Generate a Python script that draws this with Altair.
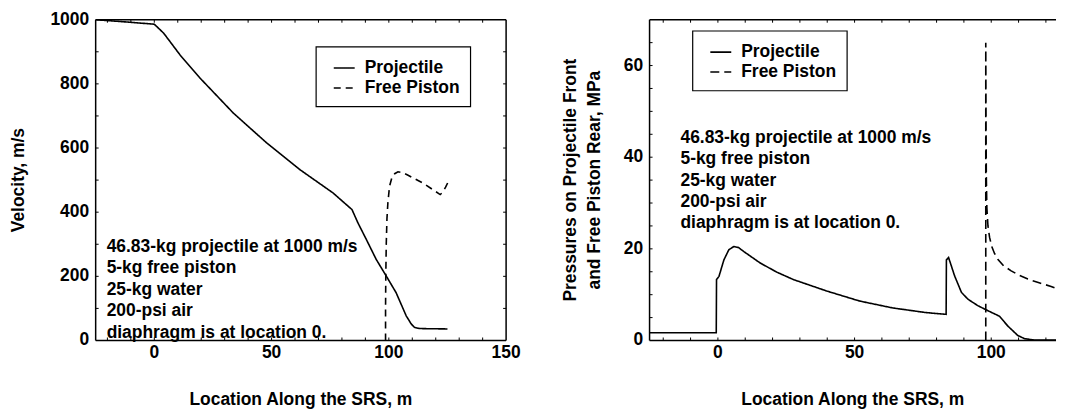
import altair as alt
import pandas as pd

FONT = "Liberation Sans"
FS = 17.5

# ---------------- data ----------------
# Left panel: velocity (m/s) vs location (m)
vel_proj_x = [-25, -12, 0, 4.0, 11.0, 19.5, 33.7, 47.9, 62.0, 76.2, 84.3, 86.8, 90.4, 94.6, 98.9, 103.1, 107.4, 109.5, 110.9, 112.5, 114.5, 125.0]
vel_proj_y = [1000, 993, 986, 958, 890, 818, 709, 616, 533, 460, 408, 367, 315, 253, 201, 149, 77, 52, 41, 38, 37, 36]

vel_pist_x = [98.6, 98.6, 98.7, 98.9, 99.2, 99.6, 100.3, 101.2, 102.5, 103.9, 106.0, 108.0, 110.3, 114.5, 118.8, 121.9, 123.0, 124.2, 125.2]
vel_pist_y = [0, 100, 200, 300, 380, 430, 481, 505, 520, 526, 523, 516, 507, 491, 470, 455, 462, 478, 493]

# Right panel: pressure (MPa) vs location (m)
prs_proj_x = [-25, -0.6, -0.5, 0.4, 2.2, 4.0, 5.8, 7.5, 9.5, 15.5, 21.6, 27.6, 39.8, 51.9, 64.0, 76.0, 83.5, 83.6, 84.4, 86.6, 89.1, 91.5, 95.1, 98.8, 103.0, 106.0, 109.7, 112.2, 115.8, 123.7]
prs_proj_y = [1.7, 1.7, 13.3, 14.0, 17.6, 19.8, 20.5, 20.3, 19.4, 16.9, 14.9, 13.3, 10.8, 8.6, 7.1, 6.1, 5.7, 17.6, 18.1, 14.1, 10.5, 9.0, 7.6, 6.5, 5.3, 3.2, 1.1, 0.4, 0.1, 0.1]

prs_pist_x = [98.0, 98.0, 98.05, 98.1, 98.2, 98.4, 98.8, 99.4, 100.2, 101.2, 102.4, 104.5, 107.3, 110.0, 113.4, 117.5, 121.9, 123.7]
prs_pist_y = [0, 65, 56, 48, 36, 29, 25, 22.5, 20.5, 19.0, 17.7, 16.3, 15.2, 14.3, 13.4, 12.6, 11.8, 11.4]

series_names = ["Projectile", "Free Piston"]

note_lines = [
    "46.83-kg projectile at 1000 m/s",
    "5-kg free piston",
    "25-kg water",
    "200-psi air",
    "diaphragm is at location 0.",
]

x_title = "Location Along the SRS, m"
left_ytitle = ["Velocity, m/s"]
right_ytitle = ["Pressures on Projectile Front", "and Free Piston Rear, MPa"]

left_xlabels = [0, 50, 100, 150]
left_ylabels = [0, 200, 400, 600, 800, 1000]
right_xlabels = [0, 50, 100]
right_ylabels = [0, 20, 40, 60]
left_xticks = [-20, -10, 0, 10, 20, 30, 40, 50, 60, 70, 80, 90, 100, 110, 120, 130, 140]
left_yticks = [100, 200, 300, 400, 500, 600, 700, 800, 900]
right_xticks = [-20, -10, 0, 10, 20, 30, 40, 50, 60, 70, 80, 90, 100, 110, 120]
right_yticks = [5, 10, 15, 20, 25, 30, 35, 40, 45, 50, 55, 60, 65]


def series_df(xs, ys, name):
    return pd.DataFrame({"x": xs, "y": ys, "series": name, "i": list(range(len(xs)))})


left_df = pd.concat([series_df(vel_proj_x, vel_proj_y, series_names[0]),
                     series_df(vel_pist_x, vel_pist_y, series_names[1])], ignore_index=True)
right_df = pd.concat([series_df(prs_proj_x, prs_proj_y, series_names[0]),
                      series_df(prs_pist_x, prs_pist_y, series_names[1])], ignore_index=True)

TXT = dict(font=FONT, fontSize=FS, fontWeight="bold", color="black")


def panel(df, xdom, ydom, xlabels, ylabels, xticks, yticks, ytitle, ytitle_x,
          ytitle_lh, dash, lx, ly, nx, ny, W, H, right_frame):
    xs = alt.Scale(domain=xdom, nice=False, zero=False)
    ys = alt.Scale(domain=ydom, nice=False, zero=False)
    legend = alt.Legend(orient="none", legendX=lx, legendY=ly, title=None,
                        direction="vertical", symbolType="stroke", symbolSize=441,
                        symbolStrokeWidth=1.6, symbolStrokeColor="black",
                        symbolOffset=7, labelOffset=9, padding=10, rowPadding=-5,
                        strokeColor="black", fillColor="white",
                        labelFont=FONT, labelFontSize=FS, labelFontWeight="bold",
                        labelColor="black", labelLimit=300)
    lines = alt.Chart(df).mark_line(color="black", strokeWidth=1.6).encode(
        x=alt.X("x:Q", scale=xs, axis=None),
        y=alt.Y("y:Q", scale=ys, axis=None),
        strokeDash=alt.StrokeDash("series:N",
                                  scale=alt.Scale(domain=series_names, range=dash),
                                  legend=legend),
        order="i:Q",
    )
    one = pd.DataFrame({"k": [0]})
    note = alt.Chart(one).mark_text(
        text=note_lines, align="left", baseline="top", lineHeight=21.5, **TXT
    ).encode(x=alt.value(nx), y=alt.value(ny))

    # tick labels and titles
    xl = pd.DataFrame({"v": xlabels, "t": [str(v) for v in xlabels]})
    yl = pd.DataFrame({"v": ylabels, "t": [str(v) for v in ylabels]})
    xlab = alt.Chart(xl).mark_text(align="center", baseline="top", **TXT).encode(
        x=alt.X("v:Q", scale=xs, axis=None), y=alt.value(H + 3.5), text="t:N")
    ylab = alt.Chart(yl).mark_text(align="right", baseline="middle", **TXT).encode(
        y=alt.Y("v:Q", scale=ys, axis=None), x=alt.value(-6.5), text="t:N")
    xtit = alt.Chart(one).mark_text(text=x_title, align="center", baseline="top",
                                    **TXT).encode(x=alt.value(W / 2), y=alt.value(H + 50.5))
    ytit = alt.Chart(one).mark_text(text=ytitle, align="center", baseline="top",
                                    angle=270, lineHeight=ytitle_lh, **TXT).encode(
        x=alt.value(ytitle_x), y=alt.value(H / 2))

    fr = dict(color="black", strokeWidth=1.5)
    frames = [
        alt.Chart(one).mark_rule(**fr).encode(x=alt.value(0), x2=alt.value(W), y=alt.value(0)),
        alt.Chart(one).mark_rule(**fr).encode(x=alt.value(0), x2=alt.value(W), y=alt.value(H)),
        alt.Chart(one).mark_rule(**fr).encode(x=alt.value(0), y=alt.value(0), y2=alt.value(H)),
    ]
    if right_frame:
        frames.append(alt.Chart(one).mark_rule(**fr).encode(
            x=alt.value(W), y=alt.value(0), y2=alt.value(H)))

    xt = pd.DataFrame({"v": xticks})
    yt = pd.DataFrame({"v": yticks})
    tk = dict(color="black", strokeWidth=1)
    ticks = [
        alt.Chart(xt).mark_rule(**tk).encode(
            x=alt.X("v:Q", scale=xs, axis=None), y=alt.value(H), y2=alt.value(H - 3)),
        alt.Chart(xt).mark_rule(**tk).encode(
            x=alt.X("v:Q", scale=xs, axis=None), y=alt.value(0), y2=alt.value(3)),
        alt.Chart(yt).mark_rule(**tk).encode(
            y=alt.Y("v:Q", scale=ys, axis=None), x=alt.value(0), x2=alt.value(3)),
    ]
    if right_frame:
        ticks.append(alt.Chart(yt).mark_rule(**tk).encode(
            y=alt.Y("v:Q", scale=ys, axis=None), x=alt.value(W), x2=alt.value(W - 3)))

    return alt.layer(lines, note, xlab, ylab, xtit, ytit, *frames, *ticks).properties(
        width=W, height=H)


left = panel(left_df, [-25, 150], [0, 1000], left_xlabels, left_ylabels,
             left_xticks, left_yticks, left_ytitle, -85.6, 23, [[1, 0], [7, 5]],
             221, 27, 11, 219, 412, 322, True)
right = panel(right_df, [-25, 123.7], [0, 70], right_xlabels, right_ylabels,
              right_xticks, right_yticks, right_ytitle, -87.9, 24,
              [[1, 0], [9, 5]], 43, 11, 31, 109.5, 408, 322, False)

chart = alt.hconcat(left, right, spacing=41).resolve_scale(
    strokeDash="independent").resolve_legend(strokeDash="independent").properties(
    padding={"left": 2, "top": 2, "right": 0, "bottom": 0}
).configure_view(stroke=None).configure_legend(strokeWidth=1.2)

chart.save("out.html", embed_options={"renderer": "svg", "actions": False})
